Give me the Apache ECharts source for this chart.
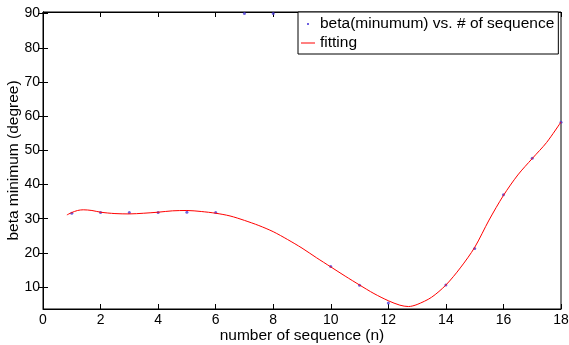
<!DOCTYPE html>
<html>
<head>
<meta charset="utf-8">
<script src="https://cdn.jsdelivr.net/npm/echarts@6/dist/echarts.min.js"></script>
<style>
  html, body { margin: 0; padding: 0; background: #fff; }
  #chart { width: 569px; height: 345px; }
</style>
</head>
<body>
<div id="chart"></div>
<script>
// measured points: sequence number -> beta minimum
const seqX = [1, 2, 3, 4, 5, 6, 7, 8, 10, 11, 12, 14, 15, 16, 17, 18];
const betaMin = [31.6, 31.8, 31.8, 31.8, 31.9, 31.8, 90, 90, 16.0, 10.5, 5.3, 10.6, 21.3, 37.0, 47.7, 58.2];

// fitted curve
const fitX = [0.83, 1.0, 1.2, 1.4, 1.7, 2.0, 2.5, 3.0, 3.5, 4.0, 4.5, 5.0, 5.5, 6.0, 6.5, 7.0, 7.5, 8.0, 8.5, 9.0, 9.5,
  10.0, 10.5, 11.0, 11.5, 12.0, 12.4, 12.7, 13.0, 13.5, 14.0, 14.5, 15.0, 15.5, 16.0, 16.5, 17.0, 17.5, 18.0];
const fitY = [31.1, 31.8, 32.4, 32.6, 32.4, 31.9, 31.5, 31.4, 31.6, 31.9, 32.3, 32.4, 32.1, 31.6, 30.8, 29.5, 28.0, 26.2, 23.9, 21.4, 18.6,
  15.9, 13.2, 10.6, 8.1, 6.0, 4.7, 4.3, 4.9, 7.0, 10.6, 15.6, 21.6, 29.6, 36.8, 42.8, 47.6, 52.3, 58.3];

const yTicks = [10, 20, 30, 40, 50, 60, 70, 80, 90];

const pointName = "beta(minumum) vs. # of sequence";
const fitName = "fitting";

const font = "'Liberation Sans', Arial, sans-serif";
const chart = echarts.init(document.getElementById("chart"));

const xBase = { type: "value", min: 0, max: 18, interval: 2, splitLine: { show: false } };
const yBase = { type: "value", min: 3.58, max: 90.47, splitLine: { show: false } };
const tickInside = { inside: true, length: 5, lineStyle: { color: "#000" } };

chart.setOption({
  animation: false,
  backgroundColor: "#fff",
  textStyle: { fontFamily: font },
  grid: {
    left: 43, top: 12, width: 518, height: 297,
    outerBoundsMode: "none", containLabel: false,
    show: true, borderColor: "#000", borderWidth: 1
  },
  legend: {
    orient: "vertical",
    left: 298,
    top: 12,
    padding: [4, 4, 3, 3],
    itemGap: 3,
    itemWidth: 14,
    itemHeight: 14,
    backgroundColor: "#fff",
    borderColor: "#000",
    borderWidth: 1,
    borderRadius: 0,
    textStyle: { color: "#000", fontSize: 15.5, fontFamily: font },
    data: [
      { name: pointName, icon: "path://M0,0M14,14M6,6h2v2h-2z", itemStyle: { color: "#4a3ad8" } },
      { name: fitName, icon: "path://M0,0M14,14M0,6.5h14v1h-14z", itemStyle: { color: "#ff0000" } }
    ]
  },
  xAxis: [
    Object.assign({}, xBase, {
      position: "bottom",
      name: "number of sequence (n)",
      nameLocation: "middle",
      nameGap: 19,
      nameMoveOverlap: false,
      nameTextStyle: { color: "#000", fontSize: 15.5, fontFamily: font },
      axisLine: { lineStyle: { color: "#000" } },
      axisTick: tickInside,
      axisLabel: { color: "#000", fontSize: 14, margin: 4, fontFamily: font }
    }),
    Object.assign({}, xBase, {
      position: "top",
      axisLine: { lineStyle: { color: "#000" } },
      axisTick: tickInside,
      axisLabel: { show: false }
    })
  ],
  yAxis: [
    Object.assign({}, yBase, {
      position: "left",
      name: "beta minimum (degree)",
      nameLocation: "middle",
      nameGap: 21,
      nameMoveOverlap: false,
      nameTextStyle: { color: "#000", fontSize: 15.5, fontFamily: font },
      axisLine: { lineStyle: { color: "#000" } },
      axisTick: Object.assign({ customValues: yTicks }, tickInside),
      axisLabel: { color: "#000", fontSize: 14, margin: 3, fontFamily: font, customValues: yTicks }
    }),
    Object.assign({}, yBase, {
      position: "right",
      axisLine: { lineStyle: { color: "#000" } },
      axisTick: Object.assign({ customValues: yTicks }, tickInside),
      axisLabel: { show: false, customValues: yTicks }
    })
  ],
  series: [
    {
      name: pointName,
      type: "scatter",
      symbol: "circle",
      symbolSize: 3,
      itemStyle: { color: "#4a3ad8" },
      data: seqX.map((x, i) => [x, betaMin[i]]),
      z: 2
    },
    {
      name: fitName,
      type: "line",
      smooth: 0.3,
      showSymbol: false,
      symbol: "none",
      lineStyle: { color: "#ff0000", width: 1 },
      itemStyle: { color: "#ff0000" },
      data: fitX.map((x, i) => [x, fitY[i]]),
      z: 3
    }
  ]
});
</script>
</body>
</html>
